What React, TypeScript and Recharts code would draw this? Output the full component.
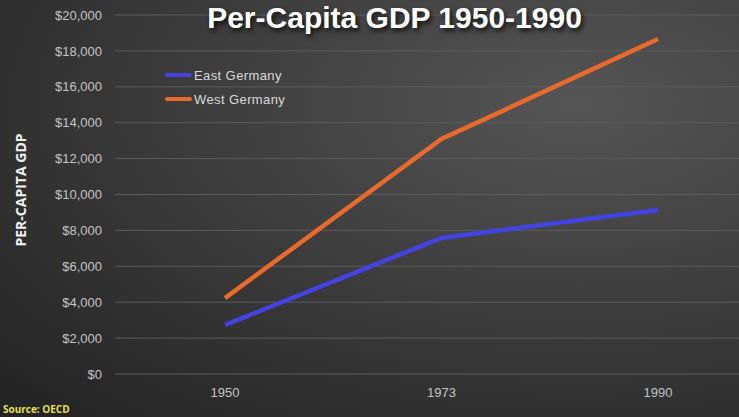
import React from "react";
import { LineChart, Line, XAxis, YAxis, CartesianGrid } from "recharts";

const years = ["1950", "1973", "1990"];
const eastGermany = [2730, 7580, 9140];
const westGermany = [4230, 13090, 18660];
const yTicks = [0, 2000, 4000, 6000, 8000, 10000, 12000, 14000, 16000, 18000, 20000];

const seriesInfo = [
  { key: "east", name: "East Germany", color: "#4343e2" },
  { key: "west", name: "West Germany", color: "#ea6a2c" },
];

const data = years.map((year, i) => ({
  year,
  east: eastGermany[i],
  west: westGermany[i],
}));

const fmtDollar = (v: number) => "$" + v.toLocaleString("en-US");

const axisFont = { fill: "#c4c4c4", fontSize: 13, fontFamily: "'Liberation Sans', Arial, sans-serif" };

export default function App() {
  return (
    <div
      style={{
        position: "absolute",
        left: 0,
        top: 0,
        width: 739,
        height: 417,
        overflow: "hidden",
        background:
          "radial-gradient(ellipse at 78% 25%, #555555 0%, #404040 40%, #2e2e2e 75%, #222222 100%)",
      }}
    >
      <LineChart
        width={739}
        height={417}
        data={data}
        margin={{ top: 15, right: 0, bottom: 0, left: 0 }}
      >
        <CartesianGrid vertical={false} stroke="#5c5c5c" strokeWidth={1} />
        <XAxis
          dataKey="year"
          axisLine={false}
          tickLine={false}
          tickSize={0}
          tickMargin={14}
          height={43}
          padding={{ left: 110, right: 81 }}
          tick={axisFont}
        />
        <YAxis
          domain={[0, 20000]}
          ticks={yTicks}
          width={115}
          axisLine={false}
          tickLine={false}
          tickSize={0}
          tickMargin={13}
          tickFormatter={fmtDollar}
          tick={axisFont}
        />
        {seriesInfo.map((s) => (
          <Line
            key={s.key}
            dataKey={s.key}
            name={s.name}
            stroke={s.color}
            strokeWidth={4.5}
            dot={false}
            isAnimationActive={false}
          />
        ))}
      </LineChart>

      {/* legend sits inside the plot, top-left */}
      <div
        style={{
          position: "absolute",
          left: 165,
          top: 63,
          fontFamily: "'Liberation Sans', Arial, sans-serif",
          fontSize: 13,
          color: "#d9d9d9",
        }}
      >
        {seriesInfo.map((s) => (
          <div key={s.key} style={{ display: "flex", alignItems: "center", height: 24 }}>
            <span style={{ width: 27, height: 4, background: s.color, borderRadius: 2, marginRight: 2 }} />
            <span style={{ letterSpacing: 0.4 }}>{s.name}</span>
          </div>
        ))}
      </div>

      <div
        style={{
          position: "absolute",
          left: 0,
          width: 789,
          top: 0,
          textAlign: "center",
          fontFamily: "'Liberation Sans', Arial, sans-serif",
          fontWeight: 700,
          fontSize: 30,
          lineHeight: "36px",
          color: "#ffffff",
          textShadow: "2px 3px 5px rgba(0,0,0,0.8)",
        }}
      >
        Per-Capita GDP 1950-1990
      </div>
      <div
        style={{
          position: "absolute",
          left: 20,
          top: 190,
          transform: "translate(-50%, -50%) rotate(-90deg)",
          whiteSpace: "nowrap",
          fontFamily: "'Open Sans', 'Liberation Sans', sans-serif",
          fontWeight: 700,
          fontSize: 14,
          color: "#f2f2f2",
        }}
      >
        PER-CAPITA GDP
      </div>
      <div
        style={{
          position: "absolute",
          left: 3,
          top: 402,
          fontFamily: "'Open Sans', 'Liberation Sans', sans-serif",
          fontWeight: 700,
          fontSize: 10,
          color: "#e6e04a",
        }}
      >
        Source: OECD
      </div>
    </div>
  );
}
